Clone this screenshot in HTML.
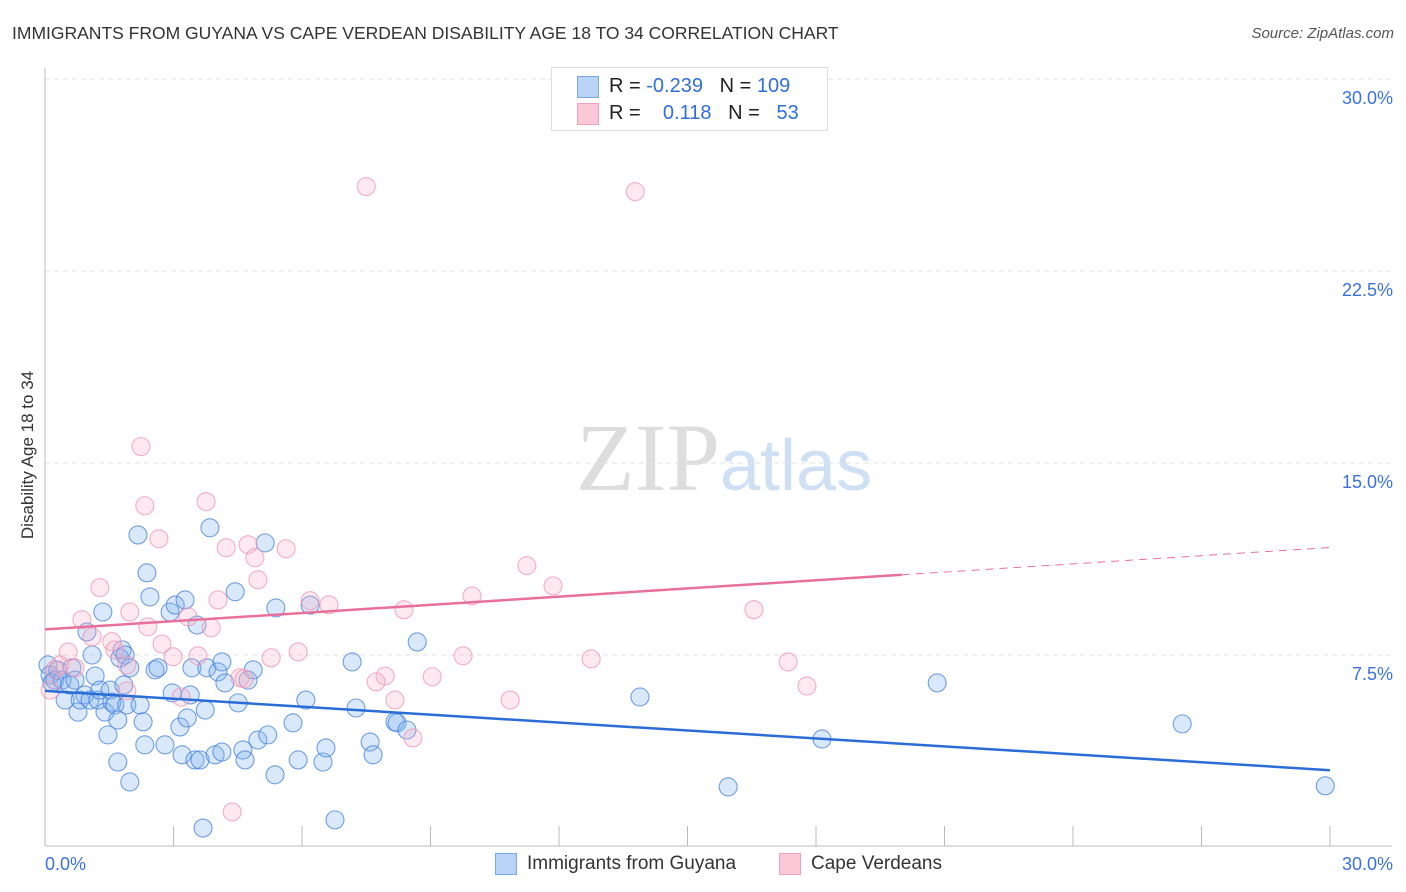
<!DOCTYPE html>
<html><head><meta charset="utf-8">
<style>
body{margin:0;background:#fff;font-family:"Liberation Sans",sans-serif;}
#wrap{position:relative;width:1406px;height:892px;overflow:hidden;}
.t{position:absolute;white-space:nowrap;}
</style></head>
<body>
<div id="wrap">
<div class="t" style="left:12px;top:23px;font-size:17.5px;color:#333;">IMMIGRANTS FROM GUYANA VS CAPE VERDEAN DISABILITY AGE 18 TO 34 CORRELATION CHART</div>
<div class="t" style="right:12px;top:25px;font-size:15px;color:#555;font-style:italic;">Source: ZipAtlas.com</div>
<svg id="svg" width="1406" height="892" style="position:absolute;left:0;top:0">
<text x="720" y="490" font-family="Liberation Serif,serif" font-size="96" fill="#ddd" text-anchor="end">ZIP</text>
<text x="720" y="490" font-family="Liberation Sans,sans-serif" font-size="72" fill="#cfe0f5">atlas</text>
<g id="grid"></g><g id="pts"></g><g id="lines"></g>
<text transform="translate(33,455) rotate(-90)" text-anchor="middle" font-size="17" fill="#333">Disability Age 18 to 34</text>
</svg>
<div style="position:absolute;left:551px;top:67px;width:275px;height:62px;border:1px solid #ddd;background:#fff;font-size:20px;">
 <div style="position:absolute;left:25px;top:8px;width:20px;height:20px;background:#b8d3f5;border:1px solid #7aa8e6"></div>
 <div class="t" style="left:57px;top:7px;color:#222">R = <span style="color:#2f6fd6">-0.239</span>&nbsp;&nbsp;&nbsp;N = <span style="color:#2f6fd6">109</span></div>
 <div style="position:absolute;left:25px;top:35px;width:20px;height:20px;background:#fac8d6;border:1px solid #f0a0b8"></div>
 <div class="t" style="left:57px;top:34px;color:#222">R = &nbsp;&nbsp;&nbsp;<span style="color:#2f6fd6">0.118</span>&nbsp;&nbsp;&nbsp;N = &nbsp;&nbsp;<span style="color:#2f6fd6">53</span></div>
</div>
<div style="position:absolute;left:495px;top:853px;font-size:19px;color:#333;">
 <div style="position:absolute;left:0;top:0;width:20px;height:20px;background:#b8d3f5;border:1px solid #7aa8e6"></div>
 <div class="t" style="left:32px;top:0">Immigrants from Guyana</div>
 <div style="position:absolute;left:284px;top:0;width:20px;height:20px;background:#fac8d6;border:1px solid #f0a0b8"></div>
 <div class="t" style="left:316px;top:0">Cape Verdeans</div>
</div>
</div>
<script>
const yTicks=[7.5,15,22.5,30];
const yTickLabels=["7.5%","15.0%","22.5%","30.0%"];
const blueX=[0.07,0.12,0.16,0.23,0.30,0.40,0.47,0.58,0.63,0.70,0.77,0.82,0.93,0.98,1.05,1.10,1.17,1.24,1.28,1.35,1.40,1.47,1.52,1.56,1.63,1.70,1.70,1.75,1.80,1.84,1.87,1.91,1.98,1.98,2.17,2.22,2.29,2.33,2.38,2.45,2.57,2.64,2.80,2.92,2.97,3.04,3.15,3.20,3.27,3.32,3.39,3.43,3.50,3.55,3.62,3.69,3.74,3.78,3.85,3.97,4.04,4.13,4.13,4.20,4.44,4.51,4.62,4.67,4.74,4.86,4.97,5.14,5.20,5.37,5.39,5.79,5.91,6.09,6.19,6.49,6.56,6.77,7.17,7.26,7.59,7.66,8.17,8.22,8.45,8.69,13.89,15.95,18.14,20.83,26.55,29.89];
const blueY=[7.11,6.72,6.41,6.52,6.91,6.52,5.74,6.33,7.00,6.52,5.27,5.74,5.94,8.40,5.74,7.50,6.68,5.74,6.13,9.18,5.27,4.38,6.13,5.66,5.55,4.96,3.32,7.38,7.70,6.33,7.50,5.55,7.00,2.54,12.19,5.55,4.89,3.99,10.71,9.77,6.92,7.00,3.99,9.18,6.02,9.45,4.69,3.60,9.65,5.04,5.94,7.00,3.40,8.67,3.40,0.74,5.35,7.00,12.47,3.60,6.84,3.71,7.23,6.41,9.97,5.63,3.79,3.40,6.52,6.92,4.18,11.88,4.38,2.82,9.34,4.85,3.40,5.74,9.45,3.32,3.87,1.06,7.23,5.43,4.10,3.60,4.89,4.85,4.57,8.01,5.86,2.35,4.22,6.41,4.81,2.39];
const pinkX=[7.50,13.78,2.24,2.33,2.66,3.76,4.23,4.74,4.90,4.97,5.63,1.28,1.98,0.86,2.40,3.34,4.04,3.88,6.19,6.63,8.38,9.97,11.25,11.86,16.55,1.10,1.56,1.63,1.91,2.73,2.99,3.57,4.55,4.65,5.28,5.91,7.94,7.73,9.04,9.76,12.75,17.35,17.79,10.86,8.17,8.59,4.37,3.18,1.91,0.54,0.35,0.70,0.12,0.23];
const pinkY=[25.8,25.6,15.64,13.33,12.04,13.49,11.69,11.81,11.30,10.44,11.65,10.13,9.18,8.88,8.60,8.99,9.65,8.56,9.62,9.46,9.27,9.81,10.99,10.20,9.27,8.21,8.02,7.70,7.11,7.93,7.43,7.47,6.61,6.57,7.39,7.62,6.68,6.45,6.65,7.47,7.35,7.23,6.29,5.74,5.74,4.26,1.37,5.86,6.10,7.62,7.11,7.00,6.13,6.92];
const blueTrend=[6.1,3.0];
const pinkTrend=[8.5,11.7];
const pinkSolidEnd=20;
const NS="http://www.w3.org/2000/svg";
const X=v=>45+v*(1285/30), Y=v=>847-v*25.6;
function mk(tag,attrs,parent){const e=document.createElementNS(NS,tag);for(const k in attrs)e.setAttribute(k,attrs[k]);parent.appendChild(e);return e;}
const grid=document.getElementById('grid'),pts=document.getElementById('pts'),lines=document.getElementById('lines'),svg=document.getElementById('svg');
yTicks.forEach((v,i)=>{
 const l=mk('line',{x1:45,x2:1392,y1:Y(v),y2:Y(v),stroke:'#e2e2e2','stroke-dasharray':'5,4'},grid);
 
 
 const t=mk('text',{x:1393,y:Y(v)+25,'text-anchor':'end','font-size':18,fill:'#3a72d8'},svg);
 t.textContent=yTickLabels[i];
 
 
});
mk('line',{x1:45,x2:45,y1:68,y2:846,stroke:'#bbb'},grid);
mk('line',{x1:45,x2:1392,y1:846,y2:846,stroke:'#bbb'},grid);
for(let i=0;i<=10;i++){const x=X(i*3);const tk=mk('line',{x1:x,x2:x,y1:826,y2:846,stroke:'#bbb'},grid);
 
 }
const xl0=mk('text',{x:45,y:870,'font-size':18,fill:'#3a72d8'},svg);xl0.textContent='0.0%';


const xl1=mk('text',{x:1393,y:870,'font-size':18,fill:'#3a72d8','text-anchor':'end'},svg);xl1.textContent='30.0%';


blueX.forEach((v,i)=>{const c=mk('circle',{cx:X(v),cy:Y(blueY[i]),r:9,fill:'rgba(130,178,238,0.3)',stroke:'rgba(70,130,220,0.75)','stroke-width':1.1},pts);
 
 });
pinkX.forEach((v,i)=>{const c=mk('circle',{cx:X(v),cy:Y(pinkY[i]),r:9,fill:'rgba(248,175,198,0.28)',stroke:'rgba(238,150,180,0.75)','stroke-width':1.1},pts);
 
 });
const bl=mk('line',{x1:X(0),y1:Y(blueTrend[0]),x2:X(30),y2:Y(blueTrend[1]),stroke:'#2a6dd6','stroke-width':2.5},lines);


const pAt=x=>pinkTrend[0]+(pinkTrend[1]-pinkTrend[0])*x/30;
const pl=mk('line',{x1:X(0),y1:Y(pAt(0)),x2:X(pinkSolidEnd),y2:Y(pAt(pinkSolidEnd)),stroke:'#e8709a','stroke-width':2.5},lines);


const pd=mk('line',{x1:X(pinkSolidEnd),y1:Y(pAt(pinkSolidEnd)),x2:X(30),y2:Y(pAt(30)),stroke:'#e8709a','stroke-width':1,'stroke-dasharray':'8,6'},lines);


</script>
</body></html>
